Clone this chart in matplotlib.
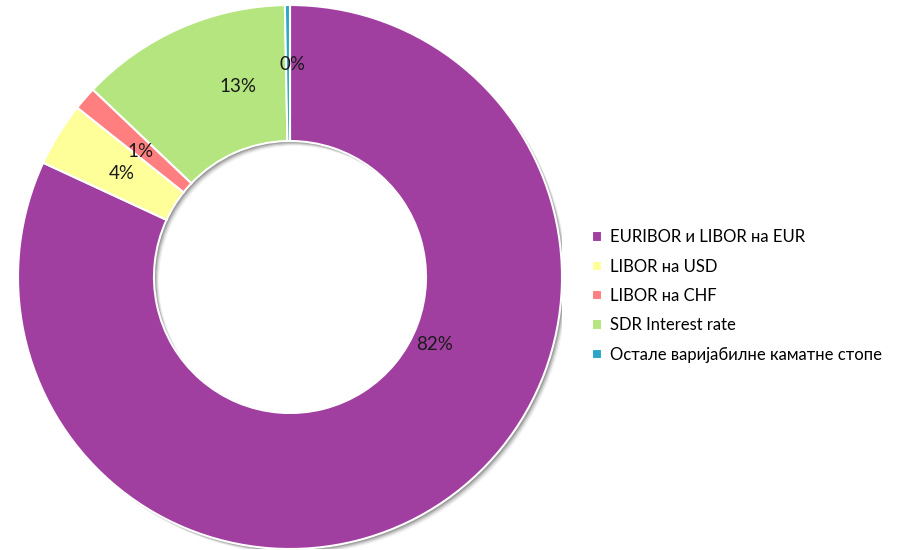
import matplotlib.pyplot as plt
from matplotlib.patches import Wedge
from matplotlib.transforms import offset_copy

plt.rcParams['font.family'] = ['Lato', 'DejaVu Sans']

categories = [
    "EURIBOR и LIBOR на EUR",
    "LIBOR на USD",
    "LIBOR на CHF",
    "SDR Interest rate",
    "Остале варијабилне каматне стопе",
]
shares = [81.9, 3.8, 1.4, 12.6, 0.3]
colors = ["#A13FA1", "#FFFF99", "#FF7F80", "#B4E57E", "#2BA6C9"]
# where each percentage label sits (data units, radius = 1)
label_pos = [(0.53, -0.25), (-0.62, 0.38), (-0.55, 0.46), (-0.19, 0.70), (0.01, 0.78)]

fig = plt.figure(figsize=(8.99, 5.5), dpi=100)
ax = fig.add_axes([18 / 899, 1 / 550, 544 / 899, 544 / 550])

# soft drop shadow under the ring, offset down and right
for dx, dy, a in [(1, -1, 0.20), (2, -2, 0.16), (3, -3, 0.12), (4, -4, 0.08), (5, -5, 0.05)]:
    tr = offset_copy(ax.transData, fig=fig, x=dx, y=dy, units="dots")
    ax.add_patch(Wedge((0, 0), 1.0, 0, 360, width=0.5, facecolor="black",
                       edgecolor="none", alpha=a, transform=tr, zorder=0))

wedges, texts, autotexts = ax.pie(
    shares,
    colors=colors,
    startangle=90,
    counterclock=False,
    radius=1.0,
    autopct="%.0f%%",
    wedgeprops=dict(width=0.5, edgecolor="white", linewidth=1.5),
    textprops=dict(fontsize=13.5, color="#1a1a1a"),
)
for t, (x, y) in zip(autotexts, label_pos):
    t.set_position((x, y))
    t.set_zorder(5)

ax.set_xlim(-1, 1)
ax.set_ylim(-1, 1)
ax.set_aspect("equal")
ax.axis("off")

fig.legend(
    wedges,
    categories,
    loc="center left",
    bbox_to_anchor=(577 / 899, 1 - 296 / 550),
    frameon=False,
    fontsize=12,
    handlelength=0.6,
    handleheight=0.6,
    handletextpad=0.45,
    labelspacing=0.8,
)

fig.savefig("out.png", dpi=100)
